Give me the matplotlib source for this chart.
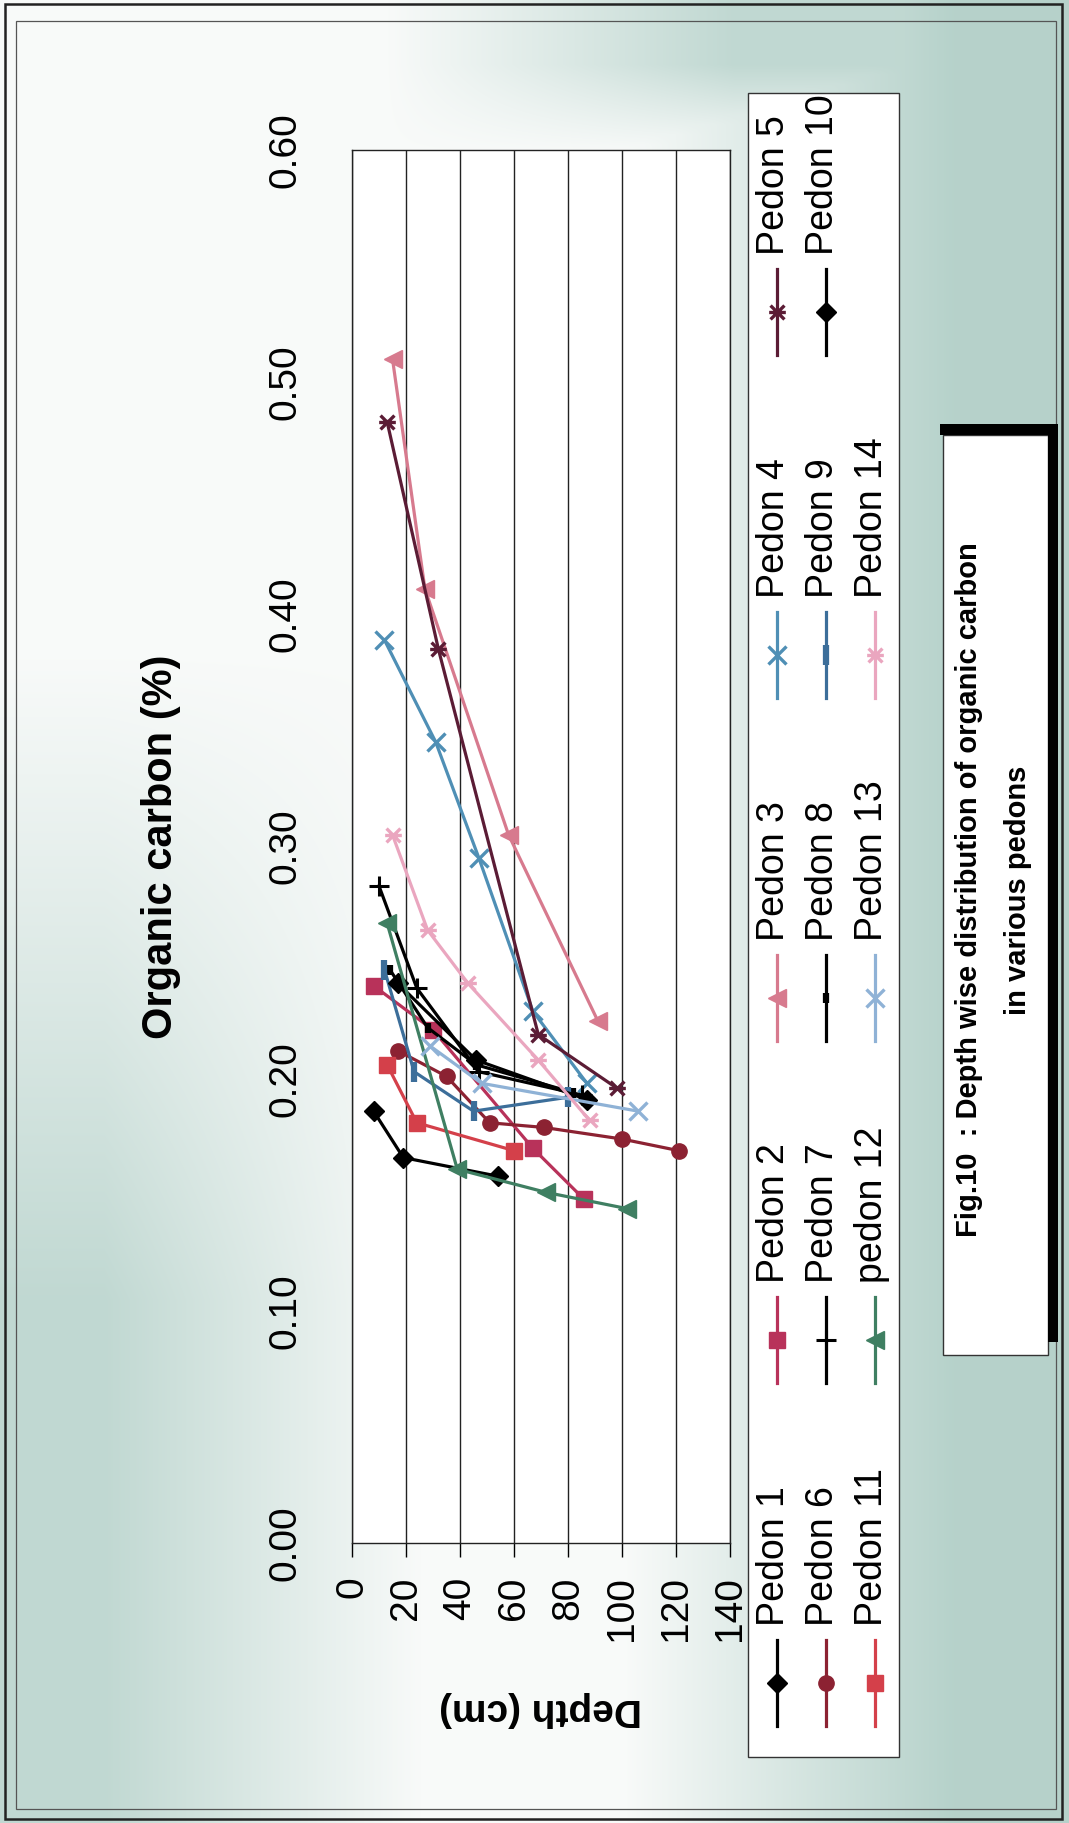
import numpy as np
import matplotlib
matplotlib.use("Agg")
import matplotlib.pyplot as plt
from matplotlib.path import Path
from matplotlib.patches import Rectangle

plt.rcParams['font.family'] = ['Liberation Sans', 'DejaVu Sans']

# ---------------- data (depth in cm, organic carbon in %) ----------------
depth_ticks = [0, 20, 40, 60, 80, 100, 120, 140]
oc_ticks = [0.00, 0.10, 0.20, 0.30, 0.40, 0.50, 0.60]

names = ["Pedon 1", "Pedon 2", "Pedon 3", "Pedon 4", "Pedon 5",
         "Pedon 6", "Pedon 7", "Pedon 8", "Pedon 9", "Pedon 10",
         "Pedon 11", "pedon 12", "Pedon 13", "Pedon 14"]

p1_depth = [8, 19, 54];                 p1_oc = [0.186, 0.166, 0.158]
p2_depth = [8, 30, 67, 86];             p2_oc = [0.240, 0.221, 0.170, 0.148]
p3_depth = [15, 27, 58, 91];            p3_oc = [0.510, 0.411, 0.305, 0.225]
p4_depth = [12, 31, 47, 67, 87];        p4_oc = [0.389, 0.345, 0.295, 0.229, 0.198]
p5_depth = [13, 32, 69, 98];            p5_oc = [0.483, 0.385, 0.219, 0.196]
p6_depth = [17, 35, 51, 71, 100, 121];  p6_oc = [0.212, 0.201, 0.181, 0.179, 0.174, 0.169]
p7_depth = [10, 24, 47, 85];            p7_oc = [0.283, 0.239, 0.203, 0.193]
p8_depth = [14, 28, 46, 82];            p8_oc = [0.247, 0.222, 0.206, 0.194]
p9_depth = [12, 23, 45, 80];            p9_oc = [0.247, 0.203, 0.186, 0.192]
p10_depth = [17, 46, 87];               p10_oc = [0.241, 0.208, 0.191]
p11_depth = [13, 24, 60];               p11_oc = [0.206, 0.181, 0.169]
p12_depth = [13, 39, 72, 102];          p12_oc = [0.267, 0.161, 0.151, 0.144]
p13_depth = [29, 48, 106];              p13_oc = [0.214, 0.198, 0.186]
p14_depth = [15, 28, 43, 69, 88];       p14_oc = [0.305, 0.264, 0.241, 0.208, 0.182]

depths = [p1_depth, p2_depth, p3_depth, p4_depth, p5_depth, p6_depth, p7_depth,
          p8_depth, p9_depth, p10_depth, p11_depth, p12_depth, p13_depth, p14_depth]
ocs = [p1_oc, p2_oc, p3_oc, p4_oc, p5_oc, p6_oc, p7_oc,
       p8_oc, p9_oc, p10_oc, p11_oc, p12_oc, p13_oc, p14_oc]

# ---------------- styles ----------------
star = Path([(-1, -1), (1, 1), (-1, 1), (1, -1), (-1.2, 0), (1.2, 0)],
            [Path.MOVETO, Path.LINETO, Path.MOVETO, Path.LINETO, Path.MOVETO, Path.LINETO])
colors = ['#000000', '#b8325a', '#d77a8e', '#4f8fb5', '#5b1c35',
          '#8c2232', '#000000', '#000000', '#3c6e9a', '#000000',
          '#d4404a', '#3f7f62', '#8fb2d6', '#eaa6bf']
markers = ['D', 's', '<', 'x', star, 'o', '+', '|', '|', 'D', 's', '<', 'x', star]
msizes = [10, 11, 13, 13, 12, 11, 14, 7, 14, 10, 11, 13, 13, 12]
medge = [1, 1, 1, 2.4, 2.4, 1, 2.2, 4.5, 4.5, 1, 1, 1, 2.4, 2.4]
filled = [True, True, True, False, False, True, False, False, False, True, True, True, False, False]

W, H = 1069, 1823
fig = plt.figure(figsize=(W / 100, H / 100), dpi=100)

# ---------------- background (scanned page tint) ----------------
bg = fig.add_axes([0, 0, 1, 1], zorder=0)
yy, xx = np.mgrid[0:H:10, 0:W:10]
t_right = np.clip((xx - 620) / 330.0, 0, 1) * 0.95
t_lb = np.clip((yy - 650) / 650.0, 0, 1) * np.clip((420 - xx) / 320.0, 0, 1) * 0.8
t_top = np.clip((xx - 380) / 350.0, 0, 1) * np.clip((150 - yy) / 90.0, 0, 1) * 0.8
t = np.maximum(np.maximum(t_right, t_lb), t_top)
white = np.array([0.975, 0.982, 0.978])
green = np.array([0.70, 0.815, 0.785])
img = white[None, None, :] * (1 - t[..., None]) + green[None, None, :] * t[..., None]
bg.imshow(img, extent=[0, W, H, 0], aspect='auto', interpolation='bilinear')
bg.set_xlim(0, W); bg.set_ylim(H, 0)
bg.axis('off')

# ---------------- main plot (rotated layout) ----------------
L, R, T, B = 352, 730, 150, 1543
ax = fig.add_axes([L / W, 1 - B / H, (R - L) / W, (B - T) / H], zorder=2)
ax.set_facecolor('white')
for i in range(len(names)):
    ax.plot(depths[i], ocs[i], color=colors[i], lw=2.3, marker=markers[i],
            ms=msizes[i], mew=medge[i],
            mfc=colors[i] if filled[i] else 'none', mec=colors[i], zorder=3)

ax.set_xlim(0, 140)
ax.set_ylim(0, 0.6)
ax.set_xticks(depth_ticks)
ax.set_xticklabels([str(v) for v in depth_ticks])
ax.set_yticks(oc_ticks)
ax.set_yticklabels([f"{v:.2f}" for v in oc_ticks])
ax.grid(axis='x', color='#222222', lw=1.0)
ax.grid(axis='y', visible=False)
for s in ax.spines.values():
    s.set_color('#222222'); s.set_linewidth(1.0)
ax.tick_params(axis='x', direction='out', length=10, width=1, pad=14,
               labelsize=28, labelrotation=90)
ax.tick_params(axis='y', length=0, pad=35, labelsize=28, labelrotation=90)
for lab in ax.get_yticklabels():
    lab.set_va('center')
ax.set_ylabel('Organic carbon (%)', fontsize=30, fontweight='bold', labelpad=62)
ax.set_xlabel('Depth (cm)', fontsize=28, fontweight='bold', rotation=180, labelpad=36)

# ---------------- overlay: frame, legend, caption ----------------
ov = fig.add_axes([0, 0, 1, 1], zorder=5)
ov.set_xlim(0, W); ov.set_ylim(H, 0)
ov.axis('off'); ov.patch.set_visible(False)

ov.add_patch(Rectangle((5, 4), 1057, 1815, fill=False, ec='#222222', lw=1.8))
ov.add_patch(Rectangle((16, 21), 1040, 1788, fill=False, ec='#555555', lw=0.9))

# legend box
ov.add_patch(Rectangle((748, 93), 151, 1664, fc='white', ec='#333333', lw=1.0))
col_x = [777, 826, 875]
entry_y = [1683, 1340, 998, 655, 312]
for i, name in enumerate(names):
    c, r = i // 5, i % 5
    x, y = col_x[c], entry_y[r]
    ov.plot([x, x], [y - 43, y + 43], color=colors[i], lw=2.3)
    ov.plot([x], [y], marker=markers[i], ms=msizes[i], color=colors[i],
            mew=medge[i], mfc=colors[i] if filled[i] else 'none',
            mec=colors[i], ls='none')
    ov.text(x - 3, y - 57, name, rotation=90, ha='center', va='bottom', fontsize=27)

# caption box with shadow
ov.add_patch(Rectangle((943, 435), 105, 920, fc='white', ec='#333333', lw=1.0))
ov.add_patch(Rectangle((940, 424), 118, 11, fc='black', ec='none'))
ov.add_patch(Rectangle((1048, 424), 10, 918, fc='black', ec='none'))
ov.text(969, 890, 'Fig.10  : Depth wise distribution of organic carbon', rotation=90,
        ha='center', va='center', fontsize=21, fontweight='bold')
ov.text(1018, 890, 'in various pedons', rotation=90,
        ha='center', va='center', fontsize=21, fontweight='bold')

fig.savefig('out.png', dpi=100)
